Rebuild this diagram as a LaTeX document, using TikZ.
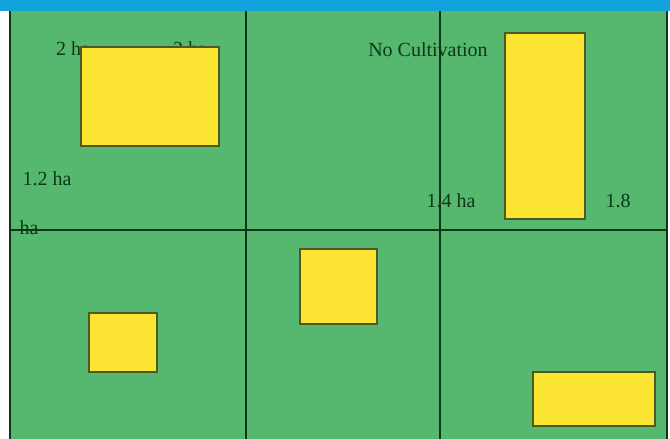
\documentclass[tikz,border=0pt]{standalone}
\usepackage{fontspec}
\setmainfont{Liberation Serif}
\usepackage{xcolor}
\definecolor{field}{HTML}{55B86E}
\definecolor{plotyel}{HTML}{FBE532}
\definecolor{skyband}{HTML}{12A3DC}
\definecolor{edgeol}{HTML}{4E5A22}
\definecolor{gridln}{HTML}{10341A}
\definecolor{txtgr}{HTML}{0C3818}

\begin{document}
\begin{tikzpicture}[x=1pt,y=-1pt,font=\fontsize{20}{22}\selectfont,
    lbl/.style={inner sep=0pt,text=txtgr},
    plotbox/.style={fill=plotyel,draw=edgeol,line width=1.6pt}]
    \useasboundingbox (0,0) rectangle (670,439);
    \fill[white] (0,0) rectangle (670,439);
    \fill[field] (10,11) rectangle (668,439);
    \fill[skyband] (0,0) rectangle (670,11);
    % labels, under the grid and the plots
    \node[lbl] (twoa) at (73,49) {2 ha};
    \node[lbl] (twob) at (190,49) {2 ha};
    \node[lbl] (nocult) at (428,50) {No Cultivation};
    \node[lbl] (onetwo) at (47,179) {1.2 ha};
    \node[lbl] (onefour) at (451,201) {1.4 ha};
    \node[lbl] (oneeight) at (618,201) {1.8};
    \node[lbl] (haleft) at (29,228) {ha};
    % field grid
    \coordinate (tl) at (10,11);
    \coordinate (br) at (667,439);
    \draw[gridln,line width=1.4pt] (tl) -- (10,439);
    \draw[gridln,line width=1.4pt] (667,11) -- (br);
    \foreach \x in {246,440}
      \draw[gridln,line width=1.2pt] (\x,11) -- (\x,439);
    \draw[gridln,line width=1.8pt] (10,230) -- (667,230);
    % cultivated plots
    \foreach \xa/\ya/\xb/\yb in {81/47/219/146,505/33/585/219,300/249/377/324,89/313/157/372,533/372/655/426}
      \draw[plotbox] (\xa,\ya) rectangle (\xb,\yb);
  \end{tikzpicture}
\end{document}
